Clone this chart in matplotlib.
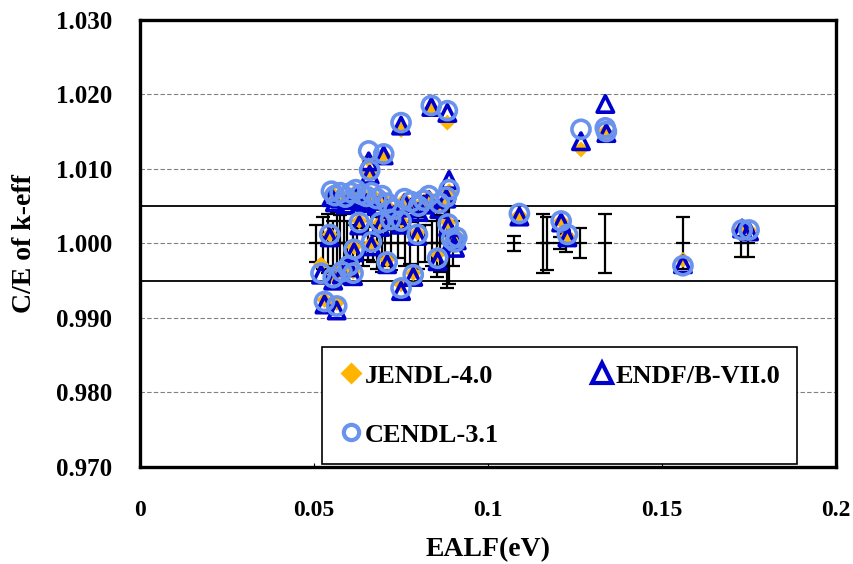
import matplotlib
matplotlib.use("Agg")
import matplotlib.pyplot as plt
from matplotlib.lines import Line2D

plt.rcParams['font.family'] = ['Liberation Serif', 'DejaVu Serif']
plt.rcParams['font.weight'] = 'bold'

# measured benchmarks: EALF and 1-sigma uncertainty of k-eff (C/E = 1)
exp_ealf = [0.0505, 0.0525, 0.0540, 0.0555, 0.0565, 0.0575, 0.0585, 0.0595,
            0.0612, 0.0622, 0.0640, 0.0655, 0.0668, 0.0680, 0.0695, 0.0705,
            0.0720, 0.0740, 0.0760, 0.0775, 0.0800, 0.0818, 0.0840, 0.0852,
            0.0862, 0.0882, 0.0888, 0.0900, 0.1075, 0.1157, 0.1170, 0.1207,
            0.1225, 0.1265, 0.1337, 0.1560, 0.1728, 0.1748]
exp_unc = [0.0025, 0.0035, 0.0040, 0.0030, 0.0042, 0.0038, 0.0040, 0.0030,
           0.0025, 0.0020, 0.0030, 0.0022, 0.0025, 0.0035, 0.0038, 0.0030,
           0.0036, 0.0020, 0.0030, 0.0028, 0.0035, 0.0025, 0.0030, 0.0045,
           0.0038, 0.0060, 0.0055, 0.0030, 0.0010, 0.0040, 0.0036, 0.0008,
           0.0012, 0.0020, 0.0040, 0.0035, 0.0018, 0.0018]

# calculated C/E per library
calc_ealf = [0.0550, 0.0560, 0.0575, 0.0590, 0.0605, 0.0620, 0.0635, 0.0650,
             0.0665, 0.0680, 0.0695, 0.0710, 0.0730, 0.0760, 0.0780, 0.0800,
             0.0815, 0.0830, 0.0860, 0.0880, 0.0888,
             0.0545, 0.0630, 0.0665, 0.0720, 0.0750, 0.0690, 0.0797, 0.0885,
             0.0895, 0.0905,
             0.0520, 0.0530, 0.0555, 0.0565, 0.0580, 0.0600, 0.0615, 0.0612,
             0.0710, 0.0750, 0.0785, 0.0855, 0.0910,
             0.0657, 0.0660, 0.0700, 0.0750, 0.0837, 0.0883, 0.1090, 0.1210,
             0.1228, 0.1267, 0.1337, 0.1340, 0.1560, 0.1730, 0.1750]
jendl40 = [1.0068, 1.0060, 1.0066, 1.0058, 1.0064, 1.0070, 1.0062, 1.0058,
           1.0066, 1.0056, 1.0062, 1.0050, 1.0042, 1.0058, 1.0052, 1.0046,
           1.0056, 1.0062, 1.0050, 1.0058, 1.0070,
           1.0012, 1.0030, 1.0000, 1.0035, 1.0030, 1.0028, 1.0014, 1.0028,
           1.0008, 0.9998,
           0.9972, 0.9924, 0.9955, 0.9920, 0.9965, 0.9975, 0.9995, 0.9962,
           0.9978, 0.9945, 0.9960, 0.9985, 1.0010,
           1.0112, 1.0095, 1.0118, 1.0152, 1.0180, 1.0162, 1.0038, 1.0030,
           1.0010, 1.0126, 1.0150, 1.0145, 0.9978, 1.0020, 1.0018]
endf70 = [1.0062, 1.0055, 1.0060, 1.0052, 1.0058, 1.0064, 1.0056, 1.0054,
          1.0060, 1.0050, 1.0057, 1.0046, 1.0038, 1.0054, 1.0048, 1.0042,
          1.0052, 1.0058, 1.0046, 1.0060, 1.0085,
          1.0008, 1.0024, 0.9996, 1.0030, 1.0025, 1.0022, 1.0010, 1.0022,
          1.0002, 0.9994,
          0.9958, 0.9918, 0.9950, 0.9910, 0.9958, 0.9968, 0.9988, 0.9956,
          0.9972, 0.9936, 0.9955, 0.9976, 1.0004,
          1.0110, 1.0092, 1.0118, 1.0158, 1.0183, 1.0175, 1.0036, 1.0028,
          1.0008, 1.0137, 1.0187, 1.0148, 0.9972, 1.0020, 1.0016]
cendl31 = [1.0070, 1.0064, 1.0068, 1.0062, 1.0068, 1.0072, 1.0066, 1.0063,
           1.0068, 1.0060, 1.0064, 1.0054, 1.0046, 1.0060, 1.0056, 1.0050,
           1.0058, 1.0064, 1.0054, 1.0062, 1.0072,
           1.0012, 1.0028, 1.0002, 1.0032, 1.0030, 1.0028, 1.0012, 1.0026,
           1.0006, 1.0002,
           0.9960, 0.9922, 0.9954, 0.9916, 0.9962, 0.9970, 0.9992, 0.9960,
           0.9975, 0.9940, 0.9958, 0.9980, 1.0008,
           1.0124, 1.0098, 1.0120, 1.0162, 1.0185, 1.0178, 1.0040, 1.0030,
           1.0012, 1.0153, 1.0155, 1.0150, 0.9970, 1.0018, 1.0018]

y_ticks = [0.970, 0.980, 0.990, 1.000, 1.010, 1.020, 1.030]
x_ticks = [0, 0.05, 0.1, 0.15, 0.2]
x_labels = ['0', '0.05', '0.1', '0.15', '0.2']

fig = plt.figure(figsize=(8.54, 5.64), dpi=100)
ax = fig.add_axes([0.164, 0.172, 0.815, 0.793])

# dashed grid at the major ticks, solid band lines at +/-0.5%
for yv in y_ticks[1:-1]:
    ax.axhline(yv, color='#808080', lw=0.8, ls=(0, (4, 2)), zorder=0)
ax.axhline(1.005, color='black', lw=1.3, zorder=1)
ax.axhline(0.995, color='black', lw=1.3, zorder=1)

ax.errorbar(exp_ealf, [1.0] * len(exp_ealf), yerr=exp_unc, fmt='_', ms=10,
            color='black', ecolor='black', elinewidth=1.6, capsize=5,
            capthick=1.4, mew=1.6, zorder=2)

ax.scatter(calc_ealf, jendl40, marker='D', s=65, color='#FFB400',
           edgecolors='none', zorder=3)
ax.scatter(calc_ealf, endf70, marker='^', s=140, facecolors='none',
           edgecolors='#0000CC', linewidths=2.6, zorder=4)
ax.scatter(calc_ealf, cendl31, marker='o', s=170, facecolors='none',
           edgecolors='#6A93EE', linewidths=2.6, zorder=5)

ax.set_xlim(0, 0.2)
ax.set_ylim(0.970, 1.030)
ax.set_xticks(x_ticks)
ax.set_xticklabels(x_labels)
ax.set_yticks(y_ticks)
ax.set_yticklabels(['%.3f' % v for v in y_ticks])
ax.tick_params(axis='x', labelsize=17, direction='in', length=3, pad=24)
ax.tick_params(axis='y', labelsize=18, length=0, pad=20)
for s in ax.spines.values():
    s.set_linewidth(2.4)

ax.set_xlabel('EALF(eV)', fontsize=20, fontweight='bold')
ax.set_ylabel('C/E of k-eff', fontsize=20, fontweight='bold')
ax.xaxis.set_label_coords(0.5, -0.157)
ax.yaxis.set_label_coords(-0.148, 0.5)

handles = [
    Line2D([], [], ls='none', marker='D', ms=11, color='#FFB400', mec='none'),
    Line2D([], [], ls='none', marker='^', ms=14, mfc='none', mec='#0000CC', mew=3.0),
    Line2D([], [], ls='none', marker='o', ms=11, mfc='none', mec='#6A93EE', mew=3.0),
]
labels = ['JENDL-4.0', 'ENDF/B-VII.0', 'CENDL-3.1']
leg = ax.legend([handles[0], handles[2], handles[1]],
                [labels[0], labels[2], labels[1]],
                ncol=2, loc='lower left', mode='expand',
                bbox_to_anchor=(0.262, 0.007, 0.682, 0.266),
                fancybox=False, edgecolor='black', framealpha=1,
                prop={'family': 'Liberation Serif', 'weight': 'bold', 'size': 19},
                handletextpad=0.05, handlelength=0.9, borderpad=0.65,
                labelspacing=1.35, borderaxespad=0)
leg.get_frame().set_linewidth(1.2)
leg.set_zorder(10)

fig.savefig('out.png', dpi=100, facecolor='white')
